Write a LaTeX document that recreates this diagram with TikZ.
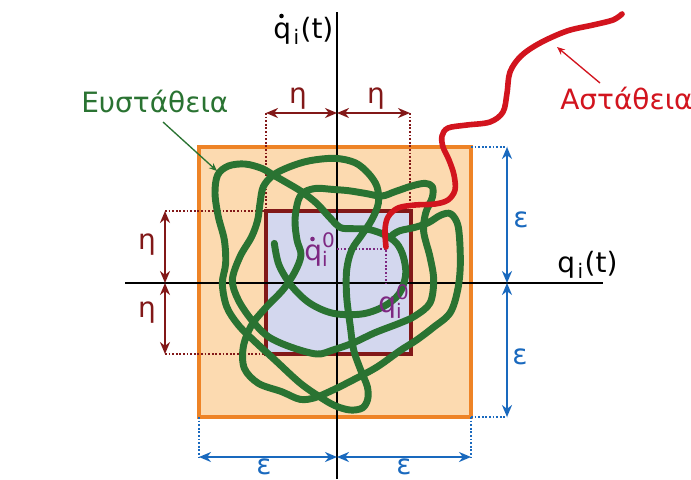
\documentclass[tikz,border=0pt]{standalone}
\usepackage{fontspec}
\setmainfont{DejaVu Sans}
\usetikzlibrary{arrows.meta}
\definecolor{orfill}{HTML}{FCDAB0}
\definecolor{ordraw}{HTML}{EE8326}
\definecolor{lavfill}{HTML}{D3D7EE}
\definecolor{maroon}{HTML}{821818}
\definecolor{stabgreen}{HTML}{2A7332}
\definecolor{unstred}{HTML}{D2141E}
\definecolor{dimblue}{HTML}{1969BE}
\definecolor{qpurple}{HTML}{7D2882}
\newcommand\subi{\raisebox{-0.45ex}{\fontsize{15}{15}\selectfont i}}
\newcommand\supz{\raisebox{0.8ex}{\fontsize{15}{15}\selectfont 0}}
\begin{document}
\begin{tikzpicture}[x=0.75pt,y=-0.75pt,
  lbl/.style={font=\fontsize{21}{24}\selectfont, inner sep=0pt},
  etaarrow/.style={draw=maroon, line width=1.9pt, {Stealth[length=9pt,width=7.5pt]}-{Stealth[length=9pt,width=7.5pt]}},
  epsarrow/.style={draw=dimblue, line width=1.9pt, {Stealth[length=9pt,width=7.5pt]}-{Stealth[length=9pt,width=7.5pt]}},
  etadot/.style={draw=maroon, line width=1pt, dash pattern=on 1.3pt off 1.4pt},
  epsdot/.style={draw=dimblue, line width=1pt, dash pattern=on 1.3pt off 1.4pt},
  qdot/.style={draw=qpurple, line width=1pt, dash pattern=on 1.3pt off 1.4pt},
  axis/.style={draw=black, line width=1.6pt},
  greencurve/.style={draw=stabgreen, line width=5.2pt, line cap=round, line join=round},
  redcurve/.style={draw=unstred, line width=4.2pt, line cap=round, line join=round}]
\useasboundingbox (0,0) rectangle (691,479);
\fill[white] (0,0) rectangle (691,479);
% squares
\draw[ordraw, fill=orfill, line width=2.4pt] (199,147) rectangle (471,417);
\draw[maroon, fill=lavfill, line width=2.4pt] (266,211) rectangle (411,354);
% axes
\coordinate (yTop) at (337,12);
\coordinate (yBot) at (337,479);
\coordinate (xL) at (125,283);
\coordinate (xR) at (603,283);
\draw[axis] (yBot) -- (yTop);
\draw[axis] (xL) -- (xR);
% dotted guides
\draw[etadot] (266,113) -- (266,211);
\draw[etadot] (410,113) -- (410,211);
\draw[etadot] (165,211) -- (266,211);
\draw[etadot] (165,354) -- (266,354);
\draw[epsdot] (471,147) -- (507,147);
\draw[epsdot] (471,417) -- (507,417);
\draw[epsdot] (199,417) -- (199,457);
\draw[epsdot] (471,417) -- (471,457);
\draw[qdot] (337,249) -- (386,249) -- (386,283);
% green trajectory
\begin{scope}[shift={(195,140)},x=0.25pt,y=-0.25pt]
\draw[greencurve] plot[smooth,tension=0.55] coordinates {
(238,310) (252,375) (290,438) (345,490) (415,520) (500,522) (565,500) (612,462)
(632,405) (625,350) (605,310) (570,285) (520,268) (470,266) (435,262) (400,228)
(365,190) (320,155) (275,128) (235,105) (200,85) (150,72) (100,78) (68,105)
(60,160) (70,230) (88,300) (92,370) (82,430) (95,500) (130,555) (180,605)
(240,660) (315,729) (375,771) (420,797) (465,810) (502,804) (518,778) (517,740)
(497,690) (476,630) (466,560) (455,470) (455,390) (470,330) (500,285) (530,240)
(550,190) (546,140) (520,100) (480,68) (420,55) (345,62) (285,80) (235,105)
(205,140) (195,190) (188,240) (170,290) (135,350) (112,420) (130,480) (170,540)
(220,590) (290,622) (366,642) (414,630) (474,609) (540,578) (615,549) (660,528)
(705,489) (716,420) (705,351) (686,275) (692,219) (712,172) (712,140) (690,130)
(650,138) (600,155) (560,168) (510,160) (460,152) (410,148) (365,145) (330,155)
(310,180) (300,240) (306,300) (318,345) (300,395) (265,448) (215,500) (170,555)
(145,620) (148,685) (190,730) (260,755) (315,778) (360,773) (414,750) (474,720)
(546,681) (615,632) (665,600) (714,563) (765,519) (788,450) (796,369) (790,262)
(768,222) (738,225) (700,248) (660,262) (615,272) (592,285)};
\end{scope}
% red trajectory
\draw[redcurve] plot[smooth,tension=0.55] coordinates {
(386,247) (385,230) (388,217) (398,208) (415,205) (435,204) (448,200) (455,190)
(454,175) (449,160) (443,147) (442,136) (448,128) (467,125) (490,122) (503,112)
(507,93) (510,72) (521,56) (540,43) (567,31) (593,25) (613,20) (622,14)};
% dimension arrows
\coordinate (etaL) at (266,113); \coordinate (etaM) at (337,113); \coordinate (etaR) at (410,113);
\draw[etaarrow] (etaL) -- (etaM);
\draw[etaarrow] (etaM) -- (etaR);
\coordinate (etaT) at (165,211); \coordinate (etaC) at (165,283); \coordinate (etaB) at (165,354);
\draw[etaarrow] (etaT) -- (etaC);
\draw[etaarrow] (etaC) -- (etaB);
\coordinate (epsT) at (507,147); \coordinate (epsC) at (507,283); \coordinate (epsB) at (507,417);
\draw[epsarrow] (epsT) -- (epsC);
\draw[epsarrow] (epsC) -- (epsB);
\coordinate (epsL) at (199,457); \coordinate (epsM) at (337,457); \coordinate (epsR) at (471,457);
\draw[epsarrow] (epsL) -- (epsM);
\draw[epsarrow] (epsM) -- (epsR);
% labels
\node[lbl, text=maroon] (eta1) at (298,99) {η};
\node[lbl, text=maroon] (eta2) at (376,99) {η};
\node[lbl, text=maroon] (eta3) at (147,245) {η};
\node[lbl, text=maroon] (eta4) at (147,313) {η};
\node[lbl, text=dimblue] (eps1) at (521,220) {ε};
\node[lbl, text=dimblue] (eps2) at (520,357) {ε};
\node[lbl, text=dimblue] (eps3) at (264,467) {ε};
\node[lbl, text=dimblue] (eps4) at (404,467) {ε};
\node[lbl, anchor=base west] (qdt) at (273,38) {q\kern2pt\subi\kern1pt(t)};
\fill[black] (281.5,16) circle[radius=2.3];
\node[lbl, anchor=base west] (qt) at (557,272) {q\kern2pt\subi\kern1pt(t)};
\node[lbl, text=qpurple, anchor=base west] (qd0) at (304,260) {q\rlap{\subi}\supz};
\fill[qpurple] (312.5,239) circle[radius=2.3];
\node[lbl, text=qpurple, anchor=base west] (q0) at (378,312) {q\rlap{\subi}\supz};
\node[lbl, text=stabgreen, anchor=base west] (stab) at (81,112) {Ευστάθεια};
\node[lbl, text=unstred, anchor=base west] (unst) at (560,109) {Αστάθεια};
% pointer arrows
\coordinate (stabTip) at (217,171);
\coordinate (unstTip) at (557,47);
\draw[stabgreen, line width=1pt, -{Stealth[length=6pt,width=5pt]}] (163,122) -- (stabTip);
\draw[unstred, line width=1pt, -{Stealth[length=6pt,width=5pt]}] (600,83) -- (unstTip);
\end{tikzpicture}
\end{document}
